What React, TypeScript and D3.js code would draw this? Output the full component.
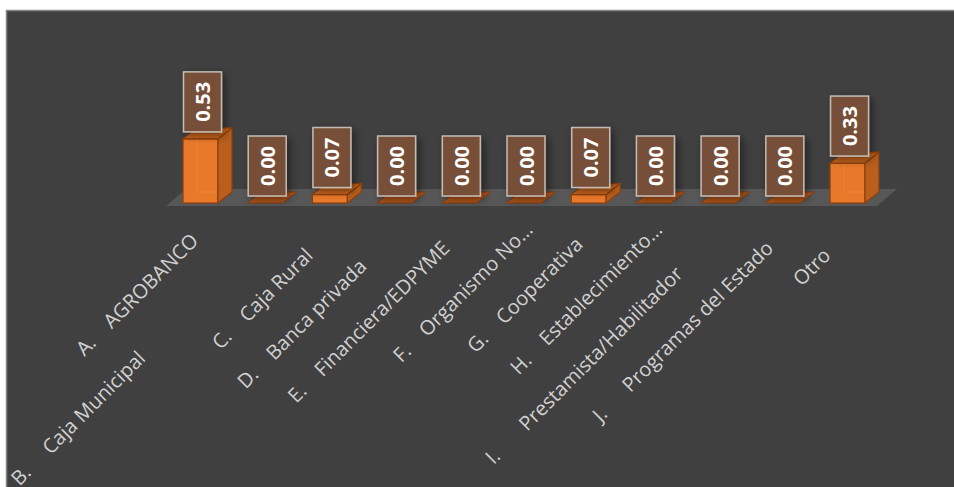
import React from "react";
import * as d3 from "d3";

const categories = [
  "A.    AGROBANCO" + " ".repeat(3),
  "B.     Caja Municipal" + " ".repeat(35),
  "C.    Caja Rural" + " ".repeat(7),
  "D.    Banca privada" + " ".repeat(10),
  "E.    Financiera/EDPYME" + " ".repeat(5),
  "F.    Organismo No…",
  "G.    Cooperativa" + " ".repeat(4),
  "H.    Establecimiento…",
  "I.       Prestamista/Habilitador" + " ".repeat(12),
  "J.      Programas del Estado" + " ".repeat(5),
  "Otro" + " ".repeat(7),
];
const values = [0.53, 0.0, 0.07, 0.0, 0.0, 0.0, 0.07, 0.0, 0.0, 0.0, 0.33];

const W = 954;
const H = 487;
const DX = 14;
const DY = -11;

export default function App() {
  const x = d3
    .scaleBand<number>()
    .domain(d3.range(categories.length))
    .range([166, 882])
    .paddingInner(0.46)
    .paddingOuter(0.263);
  const y = d3.scaleLinear().domain([0, 0.6]).range([203, 203 - 0.6 * 121]);
  const bw = x.bandwidth();
  const base = y(0);

  const floorL = 166;
  const floorR = 877;

  return (
    <svg width={W} height={H} style={{position: "absolute", left: 0, top: 0}}>
      <defs>
        <filter id="sh" x="-50%" y="-50%" width="200%" height="200%">
          <feDropShadow dx="3" dy="3" stdDeviation="4" floodColor="#000" floodOpacity="0.45" />
        </filter>
      </defs>
      <rect x={0} y={0} width={W} height={H} fill="#fff" />
      <rect x={6.5} y={10.5} width={980} height={500} fill="#404040" stroke="#858585" strokeWidth={1.5} />

      {/* floor */}
      <polygon
        points={`${floorL},${base + 3} ${floorR},${base + 3} ${floorR + 20},${base - 14} ${floorL + 20},${base - 14}`}
        fill="#575757"
      />

      {/* bars */}
      {values.map((v, i) => {
        const x0 = x(i) || 0;
        const x1 = x0 + bw;
        const yt = y(v);
        const top = `${x0},${yt} ${x1},${yt} ${x1 + DX},${yt + DY} ${x0 + DX},${yt + DY}`;
        if (v === 0) {
          return (
            <polygon key={i} points={top} fill="#B4561A" stroke="#8A3D0C" strokeWidth={1} />
          );
        }
        return (
          <g key={i}>
            <rect x={x0} y={yt} width={bw} height={base - yt} fill="#E8792A" stroke="#8E400C" strokeWidth={1.2} />
            <line x1={x0 + DX} y1={base + DY} x2={x0 + DX} y2={yt + DY} stroke="#F29B5A" strokeOpacity={0.35} />
            <line x1={x0 + DX} y1={base + DY} x2={x1 + DX} y2={base + DY} stroke="#F29B5A" strokeOpacity={0.35} />
            <polygon
              points={`${x1},${yt} ${x1 + DX},${yt + DY} ${x1 + DX},${base + DY} ${x1},${base}`}
              fill="#B95E1D"
              stroke="#8E400C"
              strokeWidth={1.2}
            />
            <polygon points={top} fill="#C8651F" stroke="#8E400C" strokeWidth={1.2} />
          </g>
        );
      })}

      {/* value labels */}
      {values.map((v, i) => {
        const x0 = x(i) || 0;
        const yb = y(v) - 7;
        return (
          <g key={i}>
            <rect
              x={x0 + 0.5}
              y={yb - 60}
              width={38}
              height={60}
              fill="#775037"
              stroke="#c4bcb4"
              strokeWidth={1.5}
              filter="url(#sh)"
            />
            <text
              transform={`translate(${x0 + 19.5},${yb - 30}) rotate(-90)`}
              textAnchor="middle"
              dominantBaseline="central"
              fontFamily="'Open Sans', sans-serif"
              fontWeight="bold"
              fontSize={20}
              fill="#fff"
            >
              {d3.format(".2f")(v)}
            </text>
          </g>
        );
      })}

      {/* category labels */}
      {categories.map((c, i) => {
        const cx = (x(i) || 0) + bw / 2;
        return (
          <text
            key={i}
            transform={`translate(${cx + 10},${231}) rotate(-45)`}
            textAnchor="end"
            fontFamily="'Open Sans', sans-serif"
            fontSize={20}
            fill="#d0d0d0"
            style={{whiteSpace: "pre"}}
          >
            {c}
          </text>
        );
      })}
    </svg>
  );
}
